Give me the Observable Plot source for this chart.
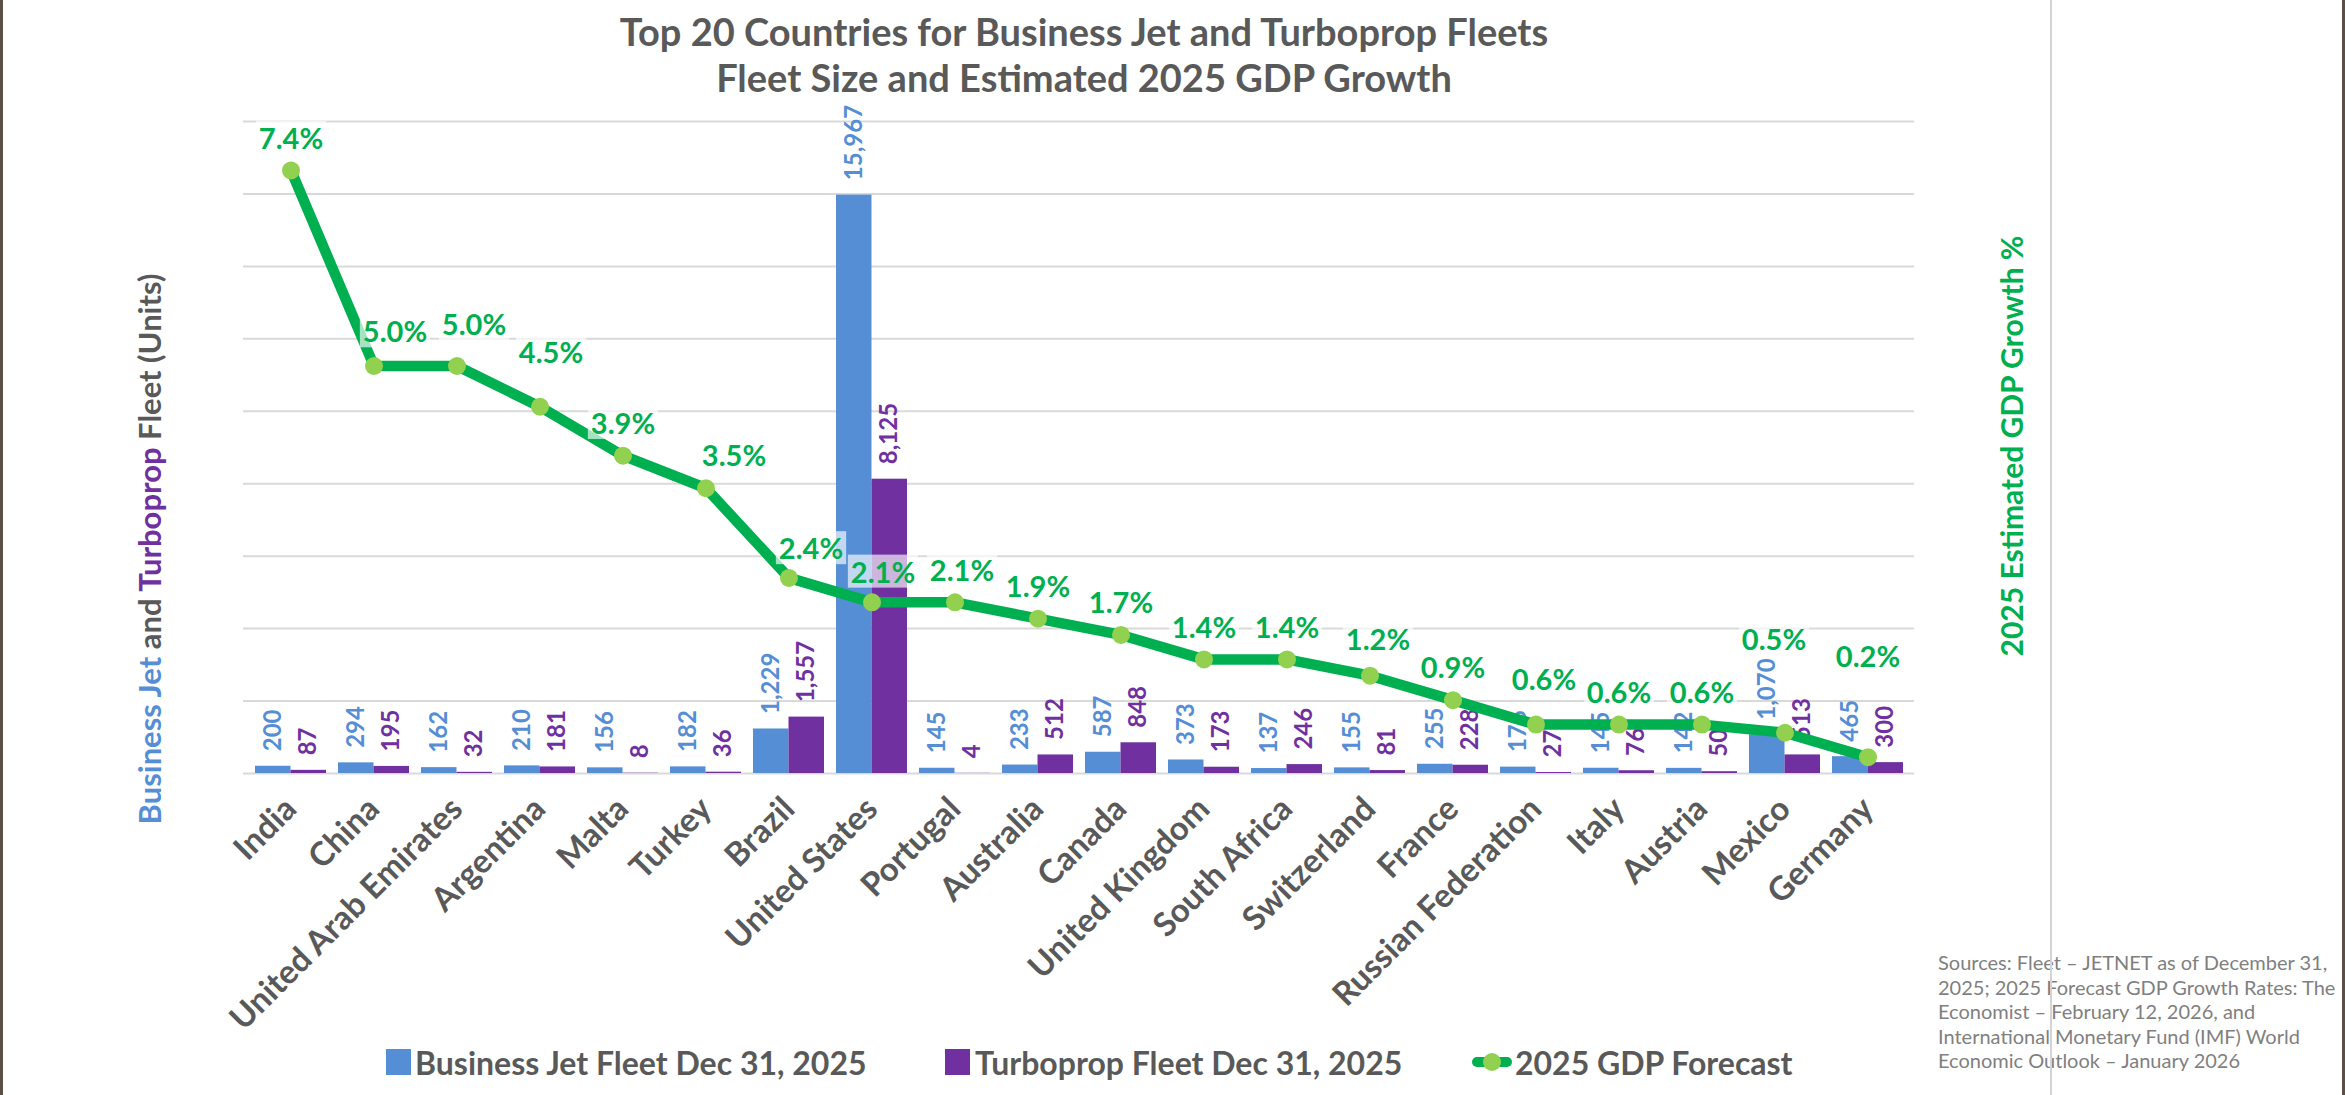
<!DOCTYPE html>
<html>
<head>
<meta charset="utf-8">
<script src="https://cdn.jsdelivr.net/npm/d3@7"></script>
<script src="https://cdn.jsdelivr.net/npm/@observablehq/plot@0.6"></script>
<style>
  html, body { margin: 0; padding: 0; background: #fff; }
  #wrap { position: relative; width: 2345px; height: 1095px; overflow: hidden; background: #fff; font-family: Lato, "Open Sans", sans-serif; }
  .abs { position: absolute; white-space: nowrap; }
  .title { left: 1084px; transform: translate(-50%, -50%); font-weight: 700; color: #595959; font-size: 38px; }
  .vlabel { transform: translate(-50%, -50%) rotate(-90deg); font-weight: 700; }
  .plot { position: absolute; left: 0; top: 100px; }
  .legtext { font-weight: 700; color: #595959; font-size: 32px; transform: translateY(-50%); top: 1062px; }
  .sw { position: absolute; top: 1049px; width: 25px; height: 26px; }
</style>
</head>
<body>
<div id="wrap"></div>
<script>
// ---- data ----
const countries = ["India", "China", "United Arab Emirates", "Argentina", "Malta", "Turkey", "Brazil", "United States", "Portugal", "Australia", "Canada", "United Kingdom", "South Africa", "Switzerland", "France", "Russian Federation", "Italy", "Austria", "Mexico", "Germany"];
const businessJet = [200, 294, 162, 210, 156, 182, 1229, 15967, 145, 233, 587, 373, 137, 155, 255, 176, 145, 142, 1070, 465];
const turboprop = [87, 195, 32, 181, 8, 36, 1557, 8125, 4, 512, 848, 173, 246, 81, 228, 27, 76, 50, 513, 300];
const gdpForecast = [7.4, 5.0, 5.0, 4.5, 3.9, 3.5, 2.4, 2.1, 2.1, 1.9, 1.7, 1.4, 1.4, 1.2, 0.9, 0.6, 0.6, 0.6, 0.5, 0.2];
const seriesNames = ["Business Jet Fleet Dec 31, 2025", "Turboprop Fleet Dec 31, 2025", "2025 GDP Forecast"];
const fleetDomain = [0, 18000];
const gdpDomain = [0, 8];

// label nudges (manual placements in the original)
const labelNudge = {"China": [21, -2], "United Arab Emirates": [17, -9], "Argentina": [11, -22], "Turkey": [28, -1], "Brazil": [22, 3], "United States": [11, 2], "Portugal": [7, 0], "Switzerland": [8, -4], "Russian Federation": [8, -13], "Mexico": [-11, -61], "Germany": [0, -68]};

const rows = countries.map((c, i) => ({country: c, jet: businessJet[i], turbo: turboprop[i], gdp: gdpForecast[i]}));

// ---- layout ----
const W = 2345, H = 830;
const M = {marginLeft: 243, marginRight: 431, marginTop: 21, marginBottom: 157};
const padIn = 0.15;
const step = (W - M.marginLeft - M.marginRight) / countries.length;
const half = step * (1 - padIn) / 2;
const xOpts = {domain: countries, type: "band", paddingInner: padIn, paddingOuter: padIn / 2};
const fmt = d3.format(",");
const BLUE = "#558ED5", PURPLE = "#7030A0", GREEN = "#00B050", LGREEN = "#92D050";
const style = {fontFamily: "Lato, sans-serif", background: "transparent", overflow: "visible"};

const wrap = document.getElementById("wrap");

const bars = Plot.plot({
  width: W, height: H, ...M, style,
  x: {...xOpts, label: null},
  y: {domain: fleetDomain, axis: null},
  marks: [
    Plot.gridY({interval: 2000, stroke: "#D9D9D9", strokeOpacity: 1, strokeWidth: 2}),
    Plot.barY(rows, {x: "country", y: "jet", fill: BLUE, insetRight: half}),
    Plot.barY(rows, {x: "country", y: "turbo", fill: PURPLE, insetLeft: half}),
    Plot.text(rows, {x: "country", y: "jet", text: d => fmt(d.jet), rotate: -90, textAnchor: "start", dx: -half / 2, dy: -15, fill: BLUE, fontSize: 24, fontWeight: 700}),
    Plot.text(rows, {x: "country", y: "turbo", text: d => fmt(d.turbo), rotate: -90, textAnchor: "start", dx: half / 2, dy: -15, fill: PURPLE, fontSize: 24, fontWeight: 700}),
    Plot.axisX({tickSize: 0, tickRotate: -45, tickPadding: 30, fontSize: 31, fontWeight: 700, fill: "#595959", label: null})
  ]
});
bars.classList.add("plot");
wrap.appendChild(bars);
// make sure the tick labels get the intended size / weight
bars.querySelectorAll("text").forEach(t => {
  if (countries.includes(t.textContent)) {
    t.style.fontSize = "33px";
    t.style.fontWeight = "700";
    t.style.fill = "#595959";
  }
});

const line = Plot.plot({
  width: W, height: H, ...M, style,
  x: {...xOpts, axis: null},
  y: {domain: gdpDomain, axis: null},
  marks: [
    Plot.line(rows, {x: "country", y: "gdp", stroke: GREEN, strokeWidth: 10.5, strokeLinejoin: "round"}),
    Plot.dot(rows, {x: "country", y: "gdp", r: 9, fill: LGREEN, stroke: "none"}),
    Plot.text(rows, {x: "country", y: "gdp", text: d => d.gdp.toFixed(1) + "%", fill: GREEN, fontSize: 29, fontWeight: 700, dy: -31})
  ]
});
line.classList.add("plot");
wrap.appendChild(line);

// apply nudges to the GDP labels and give them a translucent white label box
{
  const g = line.querySelector('g[aria-label="text"]');
  if (g) {
    g.querySelectorAll("text").forEach((t, i) => {
      const n = labelNudge[countries[i]];
      if (n) {
        const tr = t.getAttribute("transform") || "";
        t.setAttribute("transform", `translate(${n[0]},${n[1]}) ` + tr);
      }
      const bb = t.getBBox();
      const r = document.createElementNS("http://www.w3.org/2000/svg", "rect");
      r.setAttribute("x", bb.x - 3);
      r.setAttribute("y", bb.y + 1);
      r.setAttribute("width", bb.width + 6);
      r.setAttribute("height", bb.height - 2);
      r.setAttribute("fill", "#ffffff");
      r.setAttribute("fill-opacity", "0.65");
      r.setAttribute("stroke", "none");
      if (t.getAttribute("transform")) r.setAttribute("transform", t.getAttribute("transform"));
      g.insertBefore(r, t);
    });
  }
}

function addDiv(cls, css, html) {
  const d = document.createElement("div");
  d.className = "abs " + cls;
  Object.assign(d.style, css);
  d.innerHTML = html;
  wrap.appendChild(d);
  return d;
}

// titles
addDiv("title", {top: "31px"}, "Top 20 Countries for Business Jet and Turboprop Fleets");
addDiv("title", {top: "77px"}, "Fleet Size and Estimated 2025 GDP Growth");

// axis titles
addDiv("vlabel", {left: "149px", top: "549px", color: "#595959", fontSize: "31px"},
  `<span style="color:${BLUE}">Business Jet</span> and <span style="color:${PURPLE}">Turboprop</span> Fleet (Units)`);
addDiv("vlabel", {left: "2011px", top: "446px", color: GREEN, fontSize: "30px"}, "2025 Estimated GDP Growth %");

// legend
const sw1 = document.createElement("div"); sw1.className = "sw"; Object.assign(sw1.style, {left: "386px", background: BLUE}); wrap.appendChild(sw1);
addDiv("legtext", {left: "415px"}, seriesNames[0]);
const sw2 = document.createElement("div"); sw2.className = "sw"; Object.assign(sw2.style, {left: "945px", background: PURPLE}); wrap.appendChild(sw2);
addDiv("legtext", {left: "975px"}, seriesNames[1]);
addDiv("", {left: "1472px", top: "1057px", width: "40px", height: "10px", background: GREEN, borderRadius: "5px"}, "");
addDiv("", {left: "1483px", top: "1053px", width: "18px", height: "18px", background: LGREEN, borderRadius: "50%"}, "");
addDiv("legtext", {left: "1515px"}, seriesNames[2]);

// sources
addDiv("", {left: "1938px", top: "950px", color: "#7F7F7F", fontSize: "20px", lineHeight: "24.5px", whiteSpace: "normal", width: "406px"},
  "Sources: Fleet – JETNET as of December 31, 2025; 2025 Forecast GDP Growth Rates: The Economist – February 12, 2026, and International Monetary Fund (IMF) World Economic Outlook – January 2026");

// frame lines
addDiv("", {left: "2050px", top: "0px", width: "2px", height: "1095px", background: "#D4D4D4"}, "");
addDiv("", {left: "0px", top: "0px", width: "3px", height: "1095px", background: "#5B5048"}, "");
addDiv("", {left: "2342px", top: "0px", width: "3px", height: "1095px", background: "#5B5048"}, "");
</script>
</body>
</html>
